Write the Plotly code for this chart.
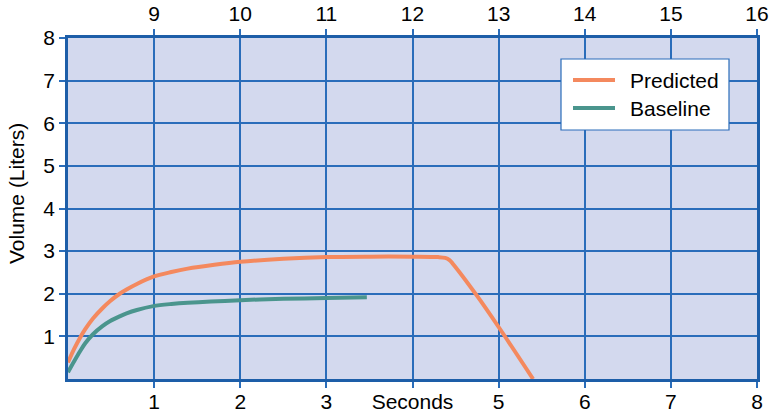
import plotly.graph_objects as go

# Predicted series (seconds, liters)
pred_x = [0, 0.07, 0.14, 0.2, 0.29, 0.4, 0.49, 0.6, 0.68, 0.8, 0.99, 1.2, 1.39, 1.7,
          2.0, 2.5, 3.0, 3.5, 4.0, 4.3, 4.38, 4.43, 4.47, 4.75, 5.0, 5.4]
pred_y = [0.39, 0.70, 0.97, 1.17, 1.42, 1.66, 1.83, 2.00, 2.10, 2.23, 2.40, 2.51, 2.59, 2.68,
          2.75, 2.82, 2.86, 2.87, 2.87, 2.86, 2.84, 2.79, 2.70, 1.95, 1.22, 0.0]

# Baseline series
base_x = [0, 0.07, 0.14, 0.2, 0.29, 0.4, 0.49, 0.6, 0.68, 0.8, 0.99, 1.2, 1.39, 2.0, 2.5, 3.0, 3.47]
base_y = [0.16, 0.41, 0.65, 0.84, 1.05, 1.24, 1.36, 1.47, 1.54, 1.62, 1.71, 1.76, 1.79, 1.85, 1.88, 1.90, 1.92]

bottom_ticks = [1, 2, 3, 4, 5, 6, 7, 8]
bottom_labels = ["1", "2", "3", "Seconds", "5", "6", "7", "8"]
top_ticks = [9, 10, 11, 12, 13, 14, 15, 16]
top_labels = ["9", "10", "11", "12", "13", "14", "15", "16"]
y_ticks = [1, 2, 3, 4, 5, 6, 7, 8]
y_labels = ["1", "2", "3", "4", "5", "6", "7", "8"]
series_names = ["Predicted", "Baseline"]

ORANGE = "#F4895E"
TEAL = "#4A958D"
GRID = "#2A6DBA"
FRAME = "#1D5EA8"
BG = "#D3D9EE"
FONT = "Liberation Sans, Arial, Helvetica, sans-serif"

# plot-area geometry in pixels (used for the hand-drawn legend and title)
L, R, T, B = 68, 757, 38, 379
W, H = R - L, B - T


def px(xp):
    return (xp - L) / W


def py(yp):
    return (B - yp) / H


fig = go.Figure()
fig.add_trace(go.Scatter(x=pred_x, y=pred_y, mode="lines", name=series_names[0],
                         line=dict(color=ORANGE, width=4, shape="spline", smoothing=0.9)))
fig.add_trace(go.Scatter(x=base_x, y=base_y, mode="lines", name=series_names[1],
                         line=dict(color=TEAL, width=4, shape="spline", smoothing=0.9)))
# invisible trace to activate top axis
fig.add_trace(go.Scatter(x=[8, 16], y=[0, 0], xaxis="x2", mode="lines",
                         line=dict(width=0), showlegend=False, hoverinfo="skip"))

axis_common = dict(
    showline=True, linecolor=FRAME, linewidth=2.5,
    ticks="outside", ticklen=6, tickwidth=1.5, tickcolor=GRID,
    tickfont=dict(family=FONT, size=21, color="black"),
    zeroline=False, automargin=False,
)

shapes = [
    dict(type="rect", xref="paper", yref="paper", x0=px(561), x1=px(729), y0=py(130), y1=py(59),
         fillcolor="white", line=dict(color=GRID, width=1.2), layer="above"),
    dict(type="line", xref="paper", yref="paper", x0=px(573), x1=px(615), y0=py(80), y1=py(80),
         line=dict(color=ORANGE, width=4), layer="above"),
    dict(type="line", xref="paper", yref="paper", x0=px(573), x1=px(615), y0=py(108), y1=py(108),
         line=dict(color=TEAL, width=4), layer="above"),
]

annotations = [
    dict(text="Volume (Liters)", xref="paper", yref="paper",
         x=px(16), y=py(194), textangle=-90,
         showarrow=False, xanchor="center", yanchor="middle",
         font=dict(family=FONT, size=21, color="black")),
    dict(text=series_names[0], xref="paper", yref="paper", x=px(628), y=py(80),
         xanchor="left", yanchor="middle", showarrow=False,
         font=dict(family=FONT, size=21, color="black")),
    dict(text=series_names[1], xref="paper", yref="paper", x=px(628), y=py(108),
         xanchor="left", yanchor="middle", showarrow=False,
         font=dict(family=FONT, size=21, color="black")),
]

fig.update_layout(
    width=771, height=413,
    margin=dict(l=L, r=771 - R, t=T, b=413 - B),
    paper_bgcolor="white",
    plot_bgcolor=BG,
    font=dict(family=FONT, size=21, color="black"),
    xaxis=dict(range=[0, 8], tickmode="array", tickvals=bottom_ticks, ticktext=bottom_labels,
               showgrid=True, gridcolor=GRID, gridwidth=1.5, mirror=True,
               ticklabelstandoff=-4, **axis_common),
    xaxis2=dict(range=[8, 16], overlaying="x", side="top", tickmode="array",
                tickvals=top_ticks, ticktext=top_labels, showgrid=False, **axis_common),
    yaxis=dict(range=[0, 8], tickmode="array", tickvals=y_ticks, ticktext=y_labels,
               showgrid=True, gridcolor=GRID, gridwidth=1.5, mirror=True, **axis_common),
    showlegend=False,
    shapes=shapes,
    annotations=annotations,
)

fig.write_html("out.html")
